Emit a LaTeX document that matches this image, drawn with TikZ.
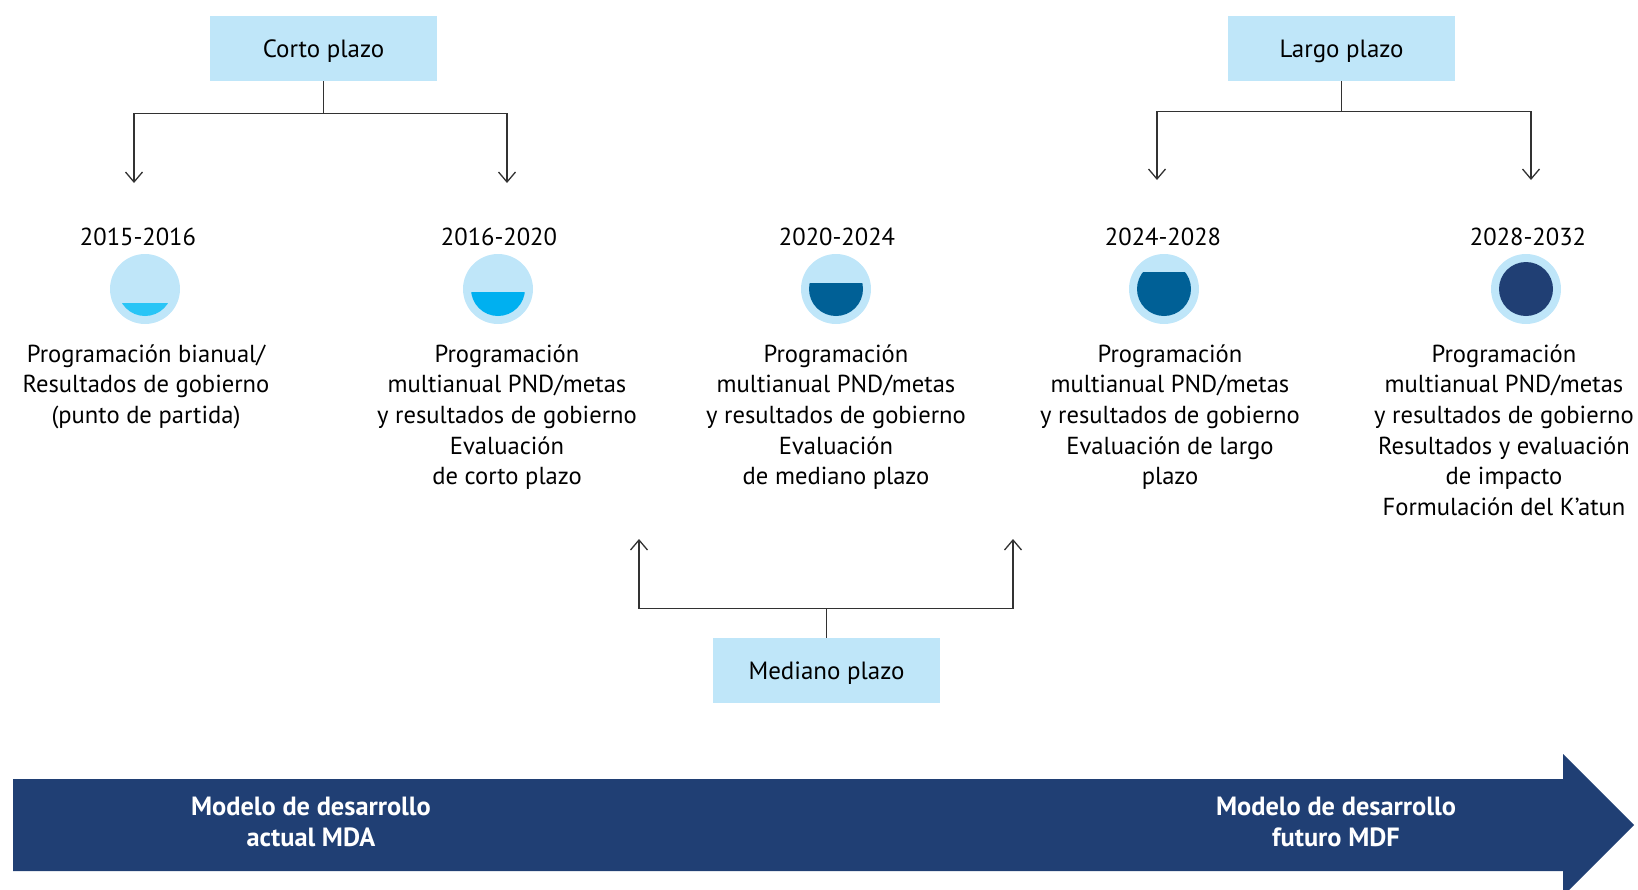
\documentclass[tikz,border=0pt]{standalone}
\usepackage{fontspec}
\setmainfont{PT Sans}
\usetikzlibrary{arrows.meta, positioning}
\definecolor{plazoblue}{RGB}{191, 230, 249}
\definecolor{fillone}{RGB}{41, 197, 246}
\definecolor{filltwo}{RGB}{0, 176, 240}
\definecolor{fillthree}{RGB}{0, 96, 150}
\definecolor{modelnavy}{RGB}{32, 63, 116}
\definecolor{linegray}{RGB}{50, 50, 50}

\begin{document}
\begin{tikzpicture}[x=0.2mm, y=-0.2mm, >={Straight Barb[length=2mm,width=3.4mm]},
    plazobox/.style={fill=plazoblue, minimum width=45.4mm, minimum height=13mm, text height=13.3pt, font=\fontsize{14.2}{17}\selectfont},
    yeartext/.style={font=\fontsize{14}{17}\selectfont},
    desc/.style={align=center, anchor=north, inner sep=0pt, font=\fontsize{14}{17.45}\selectfont},
    ring/.style={circle, fill=plazoblue, minimum size=14mm, inner sep=0pt},
    conn/.style={draw=linegray, line width=0.26mm},
    modeltext/.style={align=center, text=white, font=\bfseries\fontsize{15}{17.8}\selectfont}]

    \useasboundingbox (0,0) rectangle (1638,890);

    % Plazo boxes
    \node[plazobox] at (323.5,48.5) (corto) {Corto plazo};
    \node[plazobox] at (1341.5,48.5) (largo) {Largo plazo};
    \node[plazobox] at (826.5,670.5) (mediano) {Mediano plazo};

    % Corto plazo arrows
    \coordinate (ct1) at (134,183);
    \coordinate (ct2) at (507,183);
    \draw[conn] (corto.south) -- ++(0,32) coordinate (cj);
    \draw[conn,->] (cj) -| (ct1);
    \draw[conn,->] (cj) -| (ct2);

    % Largo plazo arrows
    \coordinate (lt1) at (1157,180);
    \coordinate (lt2) at (1531,180);
    \draw[conn] (largo.south) -- ++(0,30) coordinate (lj);
    \draw[conn,->] (lj) -| (lt1);
    \draw[conn,->] (lj) -| (lt2);

    % Mediano plazo arrows
    \coordinate (mt1) at (639,539);
    \coordinate (mt2) at (1013,539);
    \draw[conn] (mediano.north) -- ++(0,-29) coordinate (mj);
    \draw[conn,->] (mj) -| (mt1);
    \draw[conn,->] (mj) -| (mt2);

    % Periods
    \node[yeartext] at (138,237) (y1) {2015-2016};
    \node[yeartext] at (499,237) (y2) {2016-2020};
    \node[yeartext] at (837,237) (y3) {2020-2024};
    \node[yeartext] at (1163,237) (y4) {2024-2028};
    \node[yeartext] at (1528,237) (y5) {2028-2032};

    % Progress circles
    \node[ring] at (145,289) (c1) {};
    \node[ring] at (498,289) (c2) {};
    \node[ring] at (836,289) (c3) {};
    \node[ring] at (1164,289) (c4) {};
    \node[ring] at (1526,289) (c5) {};
    \begin{scope}
        \clip (c1.center) circle[radius=5.4mm];
        \fill[fillone] (c1.center) ++(-30,14) rectangle ++(60,20);
    \end{scope}
    \begin{scope}
        \clip (c2.center) circle[radius=5.4mm];
        \fill[filltwo] (c2.center) ++(-30,3) rectangle ++(60,30);
    \end{scope}
    \begin{scope}
        \clip (c3.center) circle[radius=5.4mm];
        \fill[fillthree] (c3.center) ++(-30,-6) rectangle ++(60,40);
    \end{scope}
    \begin{scope}
        \clip (c4.center) circle[radius=5.4mm];
        \fill[fillthree] (c4.center) ++(-30,-17) rectangle ++(60,50);
    \end{scope}
    \fill[modelnavy] (c5.center) circle[radius=5.4mm];

    % Descriptions
    \node[desc] at (146,344) (d1) {Programación bianual/\\Resultados de gobierno\\(punto de partida)};
    \node[desc] at (507,344) (d2) {Programación\\multianual PND/metas\\y resultados de gobierno\\Evaluación\\de corto plazo};
    \node[desc] at (836,344) (d3) {Programación\\multianual PND/metas\\y resultados de gobierno\\Evaluación\\de mediano plazo};
    \node[desc] at (1170,344) (d4) {Programación\\multianual PND/metas\\y resultados de gobierno\\Evaluación de largo\\plazo};
    \node[desc] at (1504,344) (d5) {Programación\\multianual PND/metas\\y resultados de gobierno\\Resultados y evaluación\\de impacto\\Formulación del K’atun};

    % Development model arrow
    \fill[modelnavy] (13,779) -- (1563,779) -- (1563,754) -- (1634,825) -- (1563,896) -- (1563,871) -- (13,871) -- cycle;
    \node[modeltext] at (311,822) (mda) {Modelo de desarrollo\\actual MDA};
    \node[modeltext] at (1336,822) (mdf) {Modelo de desarrollo\\futuro MDF};

\end{tikzpicture}
\end{document}
